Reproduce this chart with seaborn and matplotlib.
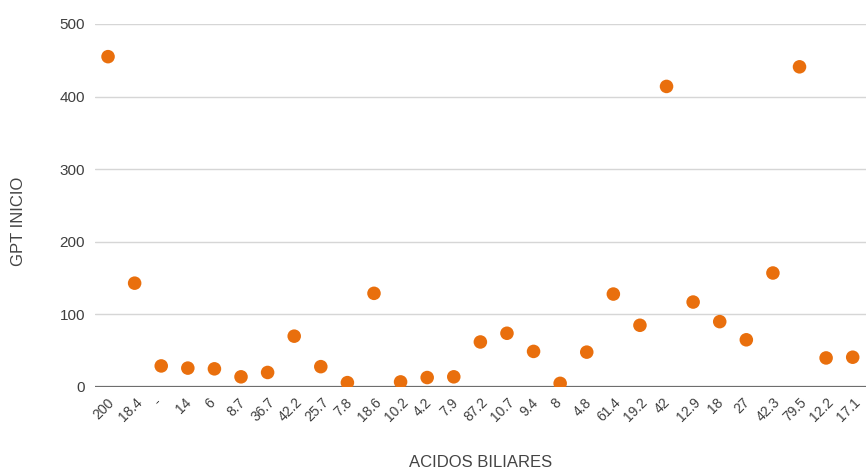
import pandas as pd
import matplotlib
matplotlib.use("Agg")
import matplotlib.pyplot as plt
import matplotlib.transforms as mtransforms
import seaborn as sns

# values
acidos = ["200", "18.4", "-", "14", "6", "8.7", "36.7", "42.2", "25.7", "7.8",
          "18.6", "10.2", "4.2", "7.9", "87.2", "10.7", "9.4", "8", "4.8", "61.4",
          "19.2", "42", "12.9", "18", "27", "42.3", "79.5", "12.2", "17.1"]
gpt_inicio = [455, 143, 29, 26, 25, 14, 20, 70, 28, 6,
              129, 7, 13, 14, 62, 74, 49, 5, 48, 128,
              85, 414, 117, 90, 65, 157, 441, 40, 41]

data = pd.DataFrame({"acidos": acidos, "gpt": gpt_inicio})

sns.set_style("white")
plt.rcParams["font.family"] = ["Liberation Sans", "DejaVu Sans"]

fig = plt.figure(figsize=(8.66, 4.75), dpi=100)
ax = fig.add_axes([0.1094, 0.1853, 0.8906, 0.7642])

sns.scatterplot(data=data, x="acidos", y="gpt", ax=ax, color="#e96f0d",
                s=95, edgecolor="none", zorder=3)

ax.set_xlim(-0.5, len(acidos) - 0.5)
ax.set_ylim(0, 500)
ax.set_yticks([0, 100, 200, 300, 400, 500])

ax.grid(axis="y", color="#d6d6d6", linewidth=1.0)
ax.axhline(0, color="#6e6e6e", linewidth=1.6, zorder=2)
for s in ax.spines.values():
    s.set_visible(False)

ax.tick_params(axis="y", length=0, labelsize=11, labelcolor="#3f3f3f", pad=7)
ax.tick_params(axis="x", length=0, labelsize=10, labelcolor="#3f3f3f", pad=6)

# rotated labels centred under each tick, nudged a little left so the last one fits
shift = mtransforms.ScaledTranslation(-3 / 72, 0, fig.dpi_scale_trans)
for lab in ax.get_xticklabels():
    lab.set_rotation(45)
    lab.set_ha("center")
    lab.set_va("top")
    lab.set_transform(lab.get_transform() + shift)

ax.set_xlabel("ACIDOS BILIARES", fontsize=12, color="#444444")
ax.set_ylabel("GPT INICIO", fontsize=12, color="#444444")
ax.xaxis.label.set_va("center")
ax.yaxis.label.set_va("center")
ax.xaxis.set_label_coords(0.5, -0.209)
ax.yaxis.set_label_coords(-0.099, 0.457)

fig.savefig("out.png", dpi=100)
